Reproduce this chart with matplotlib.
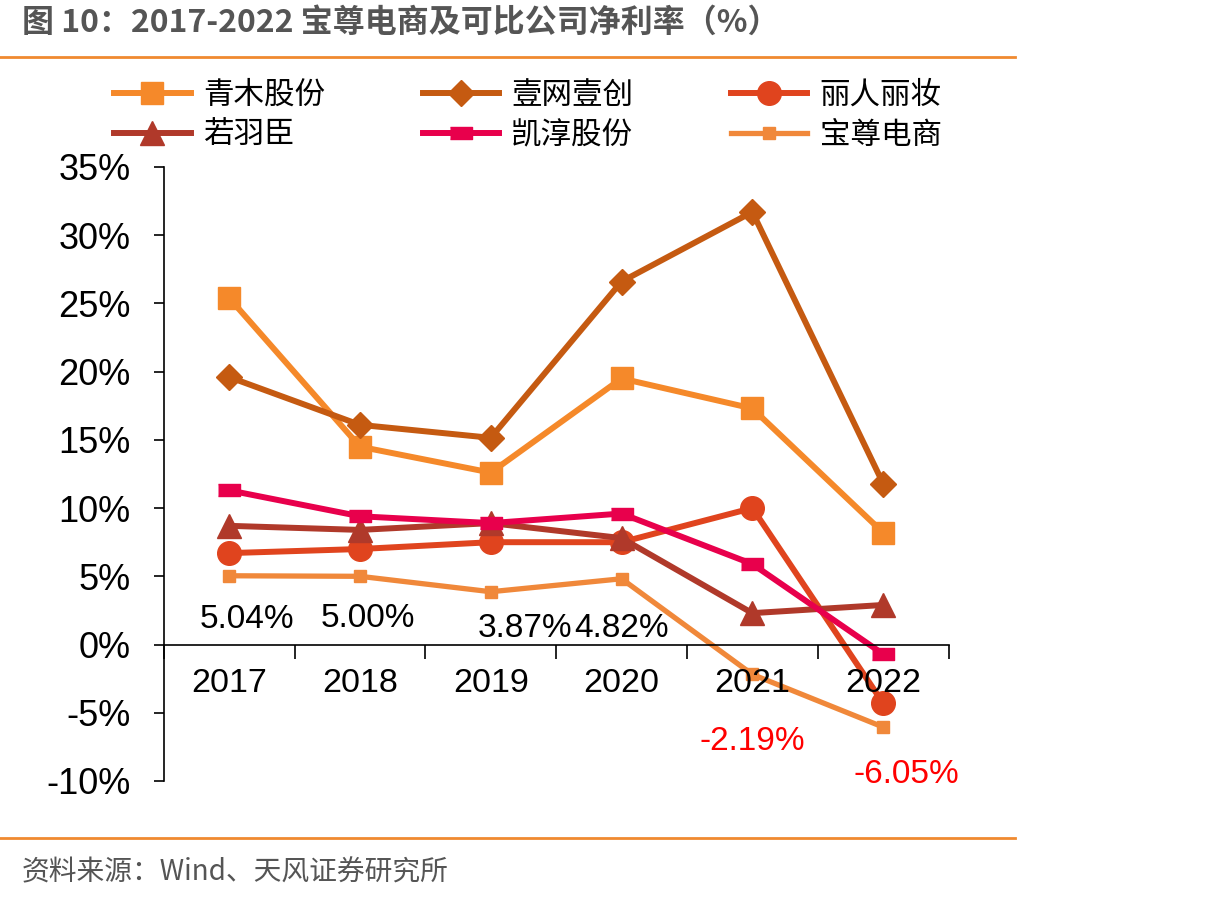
import matplotlib.pyplot as plt
import numpy as np

plt.rcParams['font.family'] = ['Noto Sans CJK SC', 'DejaVu Sans']

years = ['2017', '2018', '2019', '2020', '2021', '2022']
qingmu = [25.4, 14.5, 12.6, 19.5, 17.3, 8.2]
yiwang = [19.6, 16.1, 15.15, 26.6, 31.7, 11.8]
liren = [6.7, 7.0, 7.5, 7.5, 10.0, -4.3]
ruoyu = [8.7, 8.4, 8.9, 7.8, 2.3, 2.9]
kaichun = [11.3, 9.4, 8.9, 9.6, 5.9, -0.7]
baozun = [5.04, 5.00, 3.87, 4.82, -2.19, -6.05]
baozun_labels = ['5.04%', '5.00%', '3.87%', '4.82%', '-2.19%', '-6.05%']

num_font = ['Liberation Sans', 'DejaVu Sans']

fig = plt.figure(figsize=(12.13, 9.01), dpi=100)
ax = fig.add_axes([0.135, 0.1332, 0.647, 0.6815])

x = np.arange(len(years))
rect = [(-1, -0.5), (1, -0.5), (1, 0.5), (-1, 0.5)]

ax.plot(x, qingmu, color='#F5892A', lw=4.3, marker='s', ms=16, label='青木股份')
ax.plot(x, yiwang, color='#C55A11', lw=4.3, marker='D', ms=13, label='壹网壹创')
ax.plot(x, liren, color='#E0441E', lw=4.3, marker='o', ms=17, label='丽人丽妆')
ax.plot(x, ruoyu, color='#B0392A', lw=4.3, marker='^', ms=17, label='若羽臣')
ax.plot(x, kaichun, color='#E8004C', lw=4.3, marker=rect, ms=16, label='凯淳股份')
ax.plot(x, baozun, color='#F0883A', lw=3.8, marker='s', ms=8, label='宝尊电商')

# data labels for 宝尊电商
lbl_pos = [(0.14, 1.8), (1.06, 1.9), (2.26, 1.2), (3.0, 1.2), (4.0, -7.1), (5.18, -9.5)]
for i, (lx, ly) in enumerate(lbl_pos):
    c = 'red' if baozun[i] < 0 else 'black'
    ax.text(lx, ly, baozun_labels[i], color=c, fontsize=24, ha='center', va='center',
            family=num_font)

ax.set_xlim(-0.5, 5.5)
ax.set_ylim(-10, 35)
ax.set_yticks(np.arange(-10, 36, 5))
ax.set_yticklabels([f'{v}%' for v in range(-10, 36, 5)], fontsize=26, family=num_font)
ax.tick_params(axis='y', direction='out', length=7, width=1.2, pad=17)

for s in ['top', 'right']:
    ax.spines[s].set_visible(False)
ax.spines['bottom'].set_position(('data', 0))
ax.spines['bottom'].set_linewidth(1.2)
ax.spines['left'].set_linewidth(1.2)
ax.set_xticks(np.arange(-0.5, 6, 1))
ax.set_xticklabels([])
ax.tick_params(axis='x', direction='out', length=10, width=1.2)
for i, yr in enumerate(years):
    ax.text(i, -2.85, yr, ha='center', va='center', fontsize=24.5, family=num_font)

handles, labels = ax.get_legend_handles_labels()
order = [0, 3, 1, 4, 2, 5]
fig.legend([handles[i] for i in order], [labels[i] for i in order],
           loc='upper left', bbox_to_anchor=(0.084, 0.925), ncol=3, frameon=False,
           fontsize=22, handlelength=2.5, columnspacing=3.2, handletextpad=0.4,
           labelspacing=0.3, borderaxespad=0)

fig.text(0.018, 0.975, '图 10：2017-2022 宝尊电商及可比公司净利率（%）', fontsize=23,
         fontweight='bold', color='#555555', va='center', ha='left')
fig.add_artist(plt.Line2D([0, 0.837], [0.937, 0.937], color='#F08A30', lw=2))
fig.add_artist(plt.Line2D([0, 0.837], [0.07, 0.07], color='#F08A30', lw=2))
fig.text(0.018, 0.032, '资料来源：Wind、天风证券研究所', fontsize=20, color='#555555',
         va='center', ha='left')

fig.savefig('out.png', dpi=100)
